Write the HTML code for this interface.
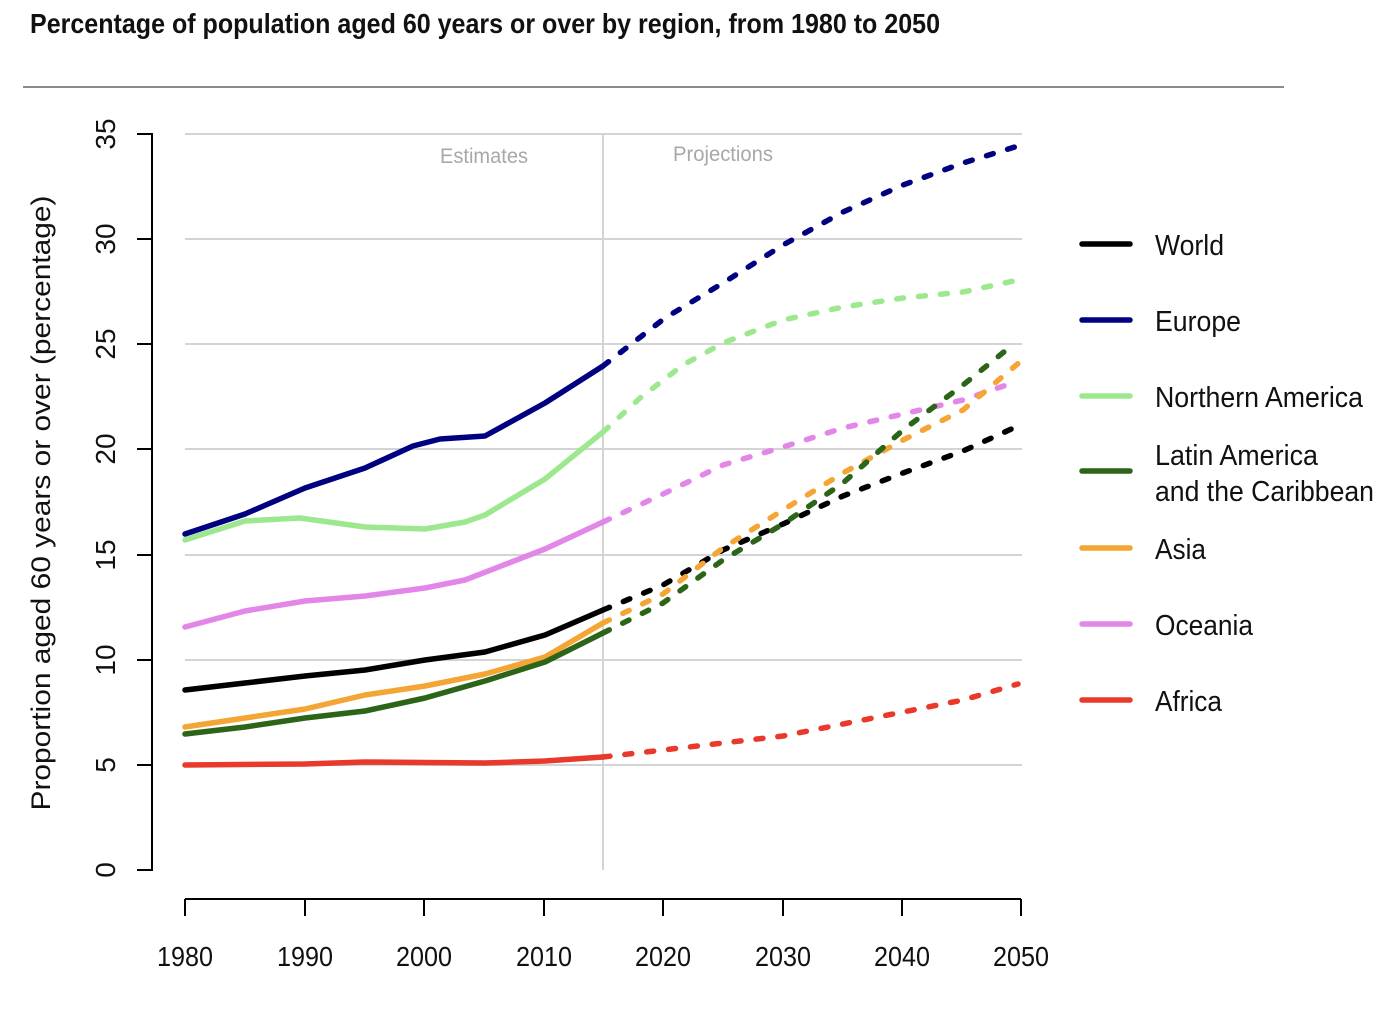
<!DOCTYPE html>
<html><head><meta charset="utf-8"><style>body{margin:0;background:#fff}svg{display:block}</style></head><body>
<svg width="1392" height="1016" xmlns="http://www.w3.org/2000/svg" font-family="Liberation Sans, sans-serif">
<text x="30" y="33" font-size="28" font-weight="bold" fill="#111" textLength="910" lengthAdjust="spacingAndGlyphs">Percentage of population aged 60 years or over by region, from 1980 to 2050</text>
<line x1="23" y1="87" x2="1284" y2="87" stroke="#3c4a44" stroke-width="1.2"/>
<g stroke="#d4d4d4" stroke-width="2">
<line x1="185" y1="134" x2="1022" y2="134"/><line x1="185" y1="239" x2="1022" y2="239"/><line x1="185" y1="344" x2="1022" y2="344"/><line x1="185" y1="449" x2="1022" y2="449"/><line x1="185" y1="555" x2="1022" y2="555"/><line x1="185" y1="660" x2="1022" y2="660"/><line x1="185" y1="765" x2="1022" y2="765"/>
<line x1="603" y1="134" x2="603" y2="870"/>
</g>
<text x="484" y="163" font-size="21" fill="#a8a8a8" text-anchor="middle" textLength="88" lengthAdjust="spacingAndGlyphs">Estimates</text>
<text x="723" y="161" font-size="21" fill="#a8a8a8" text-anchor="middle" textLength="100" lengthAdjust="spacingAndGlyphs">Projections</text>
<g stroke="#000" stroke-width="2" fill="none">
<polyline points="137,134 152,134 152,870 137,870"/>
<line x1="137" y1="239" x2="152" y2="239"/><line x1="137" y1="344" x2="152" y2="344"/><line x1="137" y1="449" x2="152" y2="449"/><line x1="137" y1="555" x2="152" y2="555"/><line x1="137" y1="660" x2="152" y2="660"/><line x1="137" y1="765" x2="152" y2="765"/>
<line x1="185" y1="899" x2="1021" y2="899"/>
<line x1="185" y1="899" x2="185" y2="916"/><line x1="305" y1="899" x2="305" y2="916"/><line x1="424" y1="899" x2="424" y2="916"/><line x1="544" y1="899" x2="544" y2="916"/><line x1="663" y1="899" x2="663" y2="916"/><line x1="783" y1="899" x2="783" y2="916"/><line x1="902" y1="899" x2="902" y2="916"/><line x1="1021" y1="899" x2="1021" y2="916"/>
</g>
<g font-size="28" fill="#111" text-anchor="middle">
<text x="185" y="966" textLength="56" lengthAdjust="spacingAndGlyphs">1980</text><text x="305" y="966" textLength="56" lengthAdjust="spacingAndGlyphs">1990</text><text x="424" y="966" textLength="56" lengthAdjust="spacingAndGlyphs">2000</text><text x="544" y="966" textLength="56" lengthAdjust="spacingAndGlyphs">2010</text><text x="663" y="966" textLength="56" lengthAdjust="spacingAndGlyphs">2020</text><text x="783" y="966" textLength="56" lengthAdjust="spacingAndGlyphs">2030</text><text x="902" y="966" textLength="56" lengthAdjust="spacingAndGlyphs">2040</text><text x="1021" y="966" textLength="56" lengthAdjust="spacingAndGlyphs">2050</text>
<text transform="translate(115,134) rotate(-90)">35</text><text transform="translate(115,239) rotate(-90)">30</text><text transform="translate(115,344) rotate(-90)">25</text><text transform="translate(115,449) rotate(-90)">20</text><text transform="translate(115,555) rotate(-90)">15</text><text transform="translate(115,660) rotate(-90)">10</text><text transform="translate(115,765) rotate(-90)">5</text><text transform="translate(115,870) rotate(-90)">0</text>
<text transform="translate(50,503) rotate(-90)" font-size="27" textLength="615" lengthAdjust="spacingAndGlyphs">Proportion aged 60 years or over (percentage)</text>
</g>
<g fill="none" stroke-width="5.5" stroke-linecap="round" stroke-linejoin="round">
<polyline stroke="#000080" points="185,534 245,514 305,488 365,468 413,446 440,439 485,436 545,403 603,366"/>
<polyline stroke="#000080" stroke-dasharray="7 15" points="603,366 665,318 723,283 783,245 843,212 903,185 963,163 1018,146"/>
<polyline stroke="#9de88f" points="185,540 245,521 300,518 365,527 425,529 465,522 485,515 545,479 603,432"/>
<polyline stroke="#9de88f" stroke-dasharray="7 15" points="603,432 640,398 683,365 723,343 783,320 843,307 903,298 963,292 1018,280"/>
<polyline stroke="#e286e8" points="185,627 245,611 305,601 365,596 425,588 465,580 545,549 603,522"/>
<polyline stroke="#e286e8" stroke-dasharray="7 15" points="603,522 663,494 723,465 783,447 843,428 903,414 963,400 1018,381"/>
<polyline stroke="#000" points="185,690 245,683 305,676 365,670 425,660 485,652 545,635 603,610"/>
<polyline stroke="#000" stroke-dasharray="7 15" points="603,610 663,585 723,550 783,524 843,496 903,473 963,451 1018,426"/>
<polyline stroke="#f4a534" points="185,727 245,718 305,709 365,695 425,686 485,674 545,657 603,623"/>
<polyline stroke="#f4a534" stroke-dasharray="7 15" points="603,623 663,594 723,548 783,510 843,473 903,440 963,410 1021,361"/>
<polyline stroke="#2c6418" points="185,734 245,727 305,718 365,711 425,698 485,681 545,662 603,633"/>
<polyline stroke="#2c6418" stroke-dasharray="7 15" points="603,633 663,603 723,560 783,524 843,483 903,430 963,385 1015,343"/>
<polyline stroke="#e8392a" points="185,765 305,764 365,762 485,763 545,761 603,757"/>
<polyline stroke="#e8392a" stroke-dasharray="7 15" points="603,757 663,750 723,743 783,736 843,724 903,712 963,700 1018,684"/>
</g>
<g stroke-width="5.5" stroke-linecap="round">
<line x1="1082" y1="244" x2="1130" y2="244" stroke="#000"/>
<line x1="1082" y1="320" x2="1130" y2="320" stroke="#000080"/>
<line x1="1082" y1="396" x2="1130" y2="396" stroke="#9de88f"/>
<line x1="1082" y1="471" x2="1130" y2="471" stroke="#2c6418"/>
<line x1="1082" y1="548" x2="1130" y2="548" stroke="#f4a534"/>
<line x1="1082" y1="624" x2="1130" y2="624" stroke="#e286e8"/>
<line x1="1082" y1="700" x2="1130" y2="700" stroke="#e8392a"/>
</g>
<g font-size="29" fill="#111">
<text x="1155" y="255" textLength="69" lengthAdjust="spacingAndGlyphs">World</text><text x="1155" y="331" textLength="86" lengthAdjust="spacingAndGlyphs">Europe</text><text x="1155" y="407" textLength="208" lengthAdjust="spacingAndGlyphs">Northern America</text><text x="1155" y="465" textLength="163" lengthAdjust="spacingAndGlyphs">Latin America</text><text x="1155" y="501" textLength="219" lengthAdjust="spacingAndGlyphs">and the Caribbean</text><text x="1155" y="559" textLength="51" lengthAdjust="spacingAndGlyphs">Asia</text><text x="1155" y="635" textLength="98" lengthAdjust="spacingAndGlyphs">Oceania</text><text x="1155" y="711" textLength="67" lengthAdjust="spacingAndGlyphs">Africa</text>
</g>
</svg>
</body></html>
